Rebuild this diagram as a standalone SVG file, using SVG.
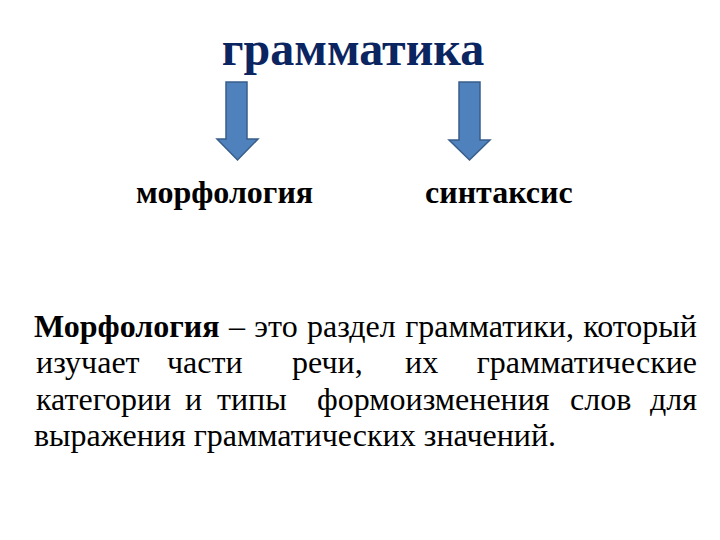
<svg xmlns="http://www.w3.org/2000/svg" width="720" height="540" viewBox="0 0 720 540">
<style>
text{font-family:"Liberation Serif","Times New Roman",serif;}
.title{font-size:48px;font-weight:bold;fill:#0b2561;}
.sub{font-size:32px;font-weight:bold;fill:#000;}
.body{font-size:32px;fill:#000;}
.arr{fill:#4f81bd;stroke:#385d8a;stroke-width:1.5;stroke-linejoin:miter;}
</style>
<rect width="720" height="540" fill="#fff"/>
<g id="title"><text class="title" x="353" y="65" text-anchor="middle">грамматика</text></g>
<g id="connectors">
<polygon class="arr" points="226,82 247,82 247,139 258,139 237.5,160 217,139 226,139"/>
<polygon class="arr" points="459,82 480,82 480,140 490,140 469.5,160 449,140 459,140"/>
</g>
<g id="morphology"><text class="sub" x="136" y="203">морфология</text></g>
<g id="syntax"><text class="sub" x="425" y="203">синтаксис</text></g>
<g id="definition">
<text class="body" x="34" y="337" word-spacing="1.4"><tspan font-weight="bold">Морфология</tspan> – это раздел грамматики, который</text>
<text class="body" x="36" y="373">изучает</text><text class="body" x="167" y="373">части</text><text class="body" x="292" y="373">речи,</text><text class="body" x="405" y="373">их</text><text class="body" x="697" y="373" text-anchor="end">грамматические</text>
<text class="body" x="36" y="410">категории</text><text class="body" x="185" y="410">и</text><text class="body" x="217" y="410">типы</text><text class="body" x="317" y="410">формоизменения</text><text class="body" x="570" y="410">слов</text><text class="body" x="697" y="410" text-anchor="end">для</text>
<text class="body" x="34" y="446">выражения грамматических значений.</text>
</g>
</svg>
